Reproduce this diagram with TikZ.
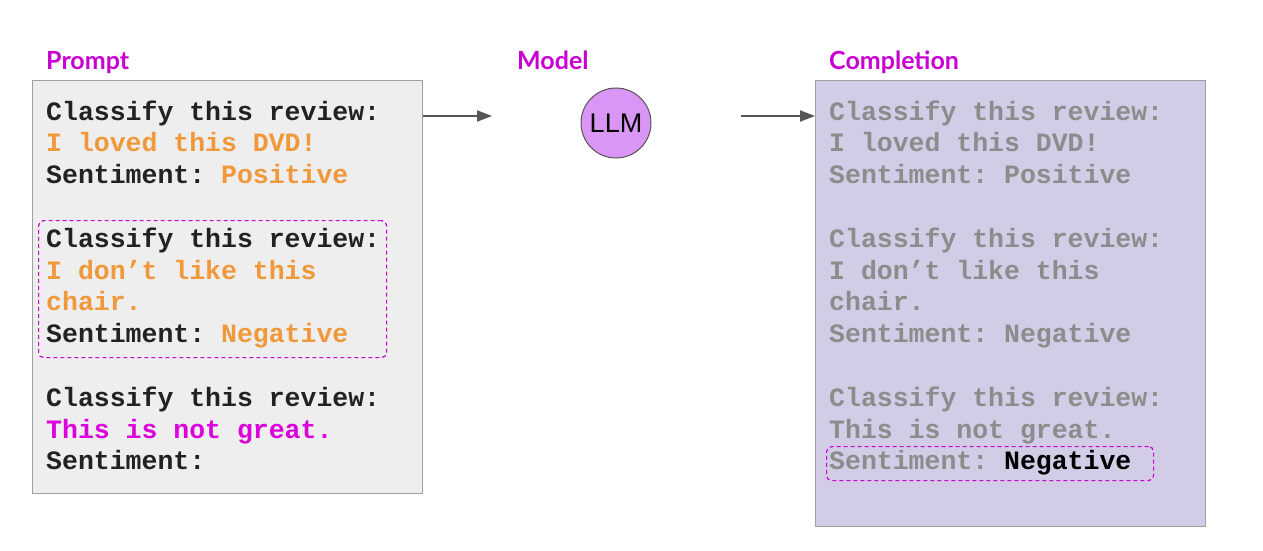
\documentclass[tikz,border=0pt]{standalone}
\usepackage{fontspec}
\setmainfont{Liberation Sans}
\newfontfamily\codefont{Liberation Mono}
\newfontfamily\labelfont{Lato}
\definecolor{labmag}{RGB}{200,0,210}
\definecolor{txtmag}{RGB}{220,0,220}
\definecolor{orng}{RGB}{240,152,58}
\definecolor{dimtxt}{RGB}{140,140,140}
\definecolor{darktxt}{RGB}{34,34,34}
\definecolor{lavfill}{RGB}{211,204,230}
\definecolor{promptfill}{RGB}{238,238,238}
\definecolor{boxline}{RGB}{160,160,160}
\definecolor{llmfill}{RGB}{218,150,245}
\definecolor{arrowgray}{RGB}{85,85,85}
\usetikzlibrary{arrows.meta}
\frenchspacing
\tikzset{
  codeline/.style={anchor=base west, inner sep=0pt, font=\codefont\bfseries\fontsize{26.5}{31.8}\selectfont},
  headlabel/.style={anchor=base west, inner sep=0pt, text=labmag, font=\labelfont\bfseries\fontsize{25}{30}\selectfont},
  panel/.style={draw=boxline, line width=1pt},
  hilite/.style={draw=labmag, dashed, dash pattern=on 4pt off 3pt, line width=1.2pt, rounded corners=5pt},
  flow/.style={draw=arrowgray, line width=2pt, -{Triangle[length=15pt,width=11pt]}}
}
\begin{document}
\begin{tikzpicture}[x=1pt,y=-1pt]
\useasboundingbox[fill=white] (0,0) rectangle (1263,551);
% panels
\node[panel, fill=promptfill, minimum width=390pt, minimum height=413pt, anchor=north west, inner sep=0pt] (prompt) at (32,80) {};
\node[panel, fill=lavfill, minimum width=390pt, minimum height=446pt, anchor=north west, inner sep=0pt] (compl) at (815,80) {};
% headings
\node[headlabel] (hp) at (46,70) {Prompt};
\node[headlabel] (hm) at (517,70) {Model};
\node[headlabel] (hc) at (829,70) {Completion};
% LLM
\node[circle, draw=arrowgray, line width=1pt, fill=llmfill, minimum size=70pt, inner sep=0pt, font=\fontsize{27}{30}\selectfont] (llm) at (616,123) {LLM};
% arrows
\coordinate (a1e) at (492,116);
\coordinate (a2s) at (741,116);
\draw[flow] (prompt.east |- a1e) -- (a1e);
\draw[flow] (a2s) -- (compl.west |- a2s);
% highlight boxes
\node[hilite, minimum width=348pt, minimum height=137pt, anchor=north west, inner sep=0pt] (hl1) at (38,220) {};
\node[hilite, minimum width=327pt, minimum height=34pt, anchor=north west, inner sep=0pt] (hl2) at (826,446) {};
% prompt text
\node[codeline, text=darktxt] (p1) at (46,120) {Classify this review:};
\node[codeline, text=orng] (p2) at (46,151.8) {I loved this DVD!};
\node[codeline, text=darktxt] (p3) at (46,183.6) {Sentiment: \textcolor{orng}{Positive}};
\node[codeline, text=darktxt] (p4) at (46,247.2) {Classify this review:};
\node[codeline, text=orng] (p5) at (46,279) {I don’t like this};
\node[codeline, text=orng] (p6) at (46,310.8) {chair.};
\node[codeline, text=darktxt] (p7) at (46,342.6) {Sentiment: \textcolor{orng}{Negative}};
\node[codeline, text=darktxt] (p8) at (46,406.2) {Classify this review:};
\node[codeline, text=txtmag] (p9) at (46,438) {This is not great.};
\node[codeline, text=darktxt] (p10) at (46,469.8) {Sentiment:};
% completion text
\node[codeline, text=dimtxt] (c1) at (829,120) {Classify this review:};
\node[codeline, text=dimtxt] (c2) at (829,151.8) {I loved this DVD!};
\node[codeline, text=dimtxt] (c3) at (829,183.6) {Sentiment: Positive};
\node[codeline, text=dimtxt] (c4) at (829,247.2) {Classify this review:};
\node[codeline, text=dimtxt] (c5) at (829,279) {I don’t like this};
\node[codeline, text=dimtxt] (c6) at (829,310.8) {chair.};
\node[codeline, text=dimtxt] (c7) at (829,342.6) {Sentiment: Negative};
\node[codeline, text=dimtxt] (c8) at (829,406.2) {Classify this review:};
\node[codeline, text=dimtxt] (c9) at (829,438) {This is not great.};
\node[codeline, text=dimtxt] (c10) at (829,469.8) {Sentiment: \textcolor{black}{Negative}};
\end{tikzpicture}
\end{document}
